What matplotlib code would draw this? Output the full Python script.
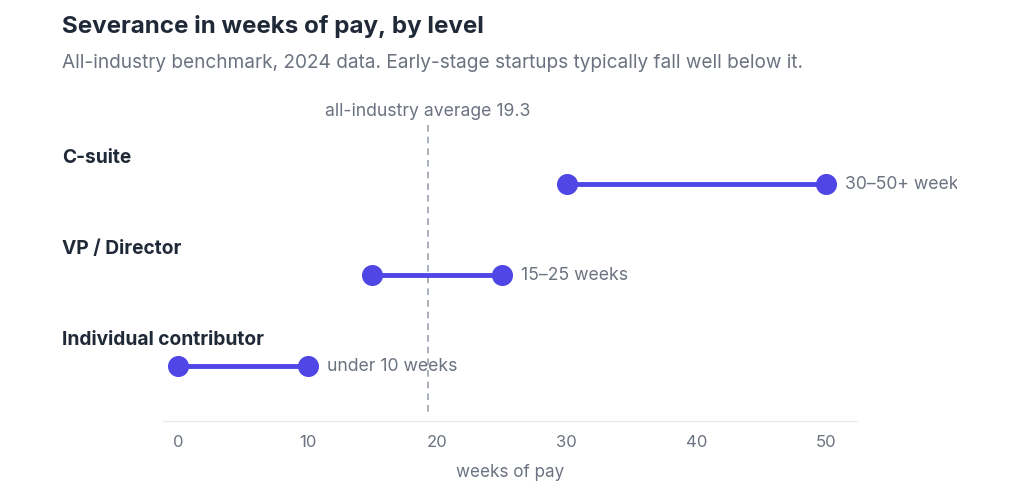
import matplotlib.pyplot as plt
from matplotlib.patches import Rectangle

levels = ["C-suite", "VP / Director", "Individual contributor"]
low = [30, 15, 0]
high = [50, 25, 10]
labels = ["30–50+ weeks", "15–25 weeks", "under 10 weeks"]
avg = 19.3

plt.rcParams['font.family'] = ['Inter', 'DejaVu Sans']
fig = plt.figure(figsize=(10.24, 5.0), dpi=100)
ax = fig.add_axes([163/1024, 1-421/500, (857-163)/1024, 321/500])

purple = "#4f46e5"
grey = "#6b7280"
for i, lev in enumerate(levels):
    ax.plot([low[i], high[i]], [i, i], color=purple, lw=3.5, solid_capstyle='butt', zorder=3)
    ax.scatter([low[i], high[i]], [i, i], s=200, color=purple, zorder=4)
    t = ax.text(high[i] + 1.5, i, labels[i], va='center', ha='left', fontsize=12.7, color=grey)
    t.set_clip_path(Rectangle((0, 0), 957, 500, transform=None))
    t.set_clip_on(True)
    ax.text(-0.1455, i - 0.29, lev, transform=ax.get_yaxis_transform(), ha='left', va='center',
            fontsize=13.8, fontweight='bold', color='#1f2937')

ax.plot([avg, avg], [-0.65, 2.5], ls=(0, (4, 3)), color='#9ca3af', lw=1.2, zorder=1)
ax.text(avg, -0.8, f"all-industry average {avg}", ha='center', va='center', fontsize=12.7, color=grey)

ax.set_xlim(-1.16, 52.4)
ax.set_ylim(2.604, -0.923)
ax.set_yticks([])
ax.set_xticks([0, 10, 20, 30, 40, 50])
for s in ['top', 'right', 'left']:
    ax.spines[s].set_visible(False)
ax.spines['bottom'].set_color('#e5e7eb')
ax.tick_params(axis='x', length=0, pad=10, labelsize=12, labelcolor=grey)
ax.set_xlabel("weeks of pay", fontsize=12.3, color=grey, labelpad=10)

fig.text(62/1024, 1-27/500, "Severance in weeks of pay, by level", fontsize=17.4, fontweight='bold',
         color='#1f2937', va='center')
fig.text(62/1024, 1-63/500, "All-industry benchmark, 2024 data. Early-stage startups typically fall well below it.",
         fontsize=13.7, color=grey, va='center')

fig.savefig("out.png", dpi=100)
